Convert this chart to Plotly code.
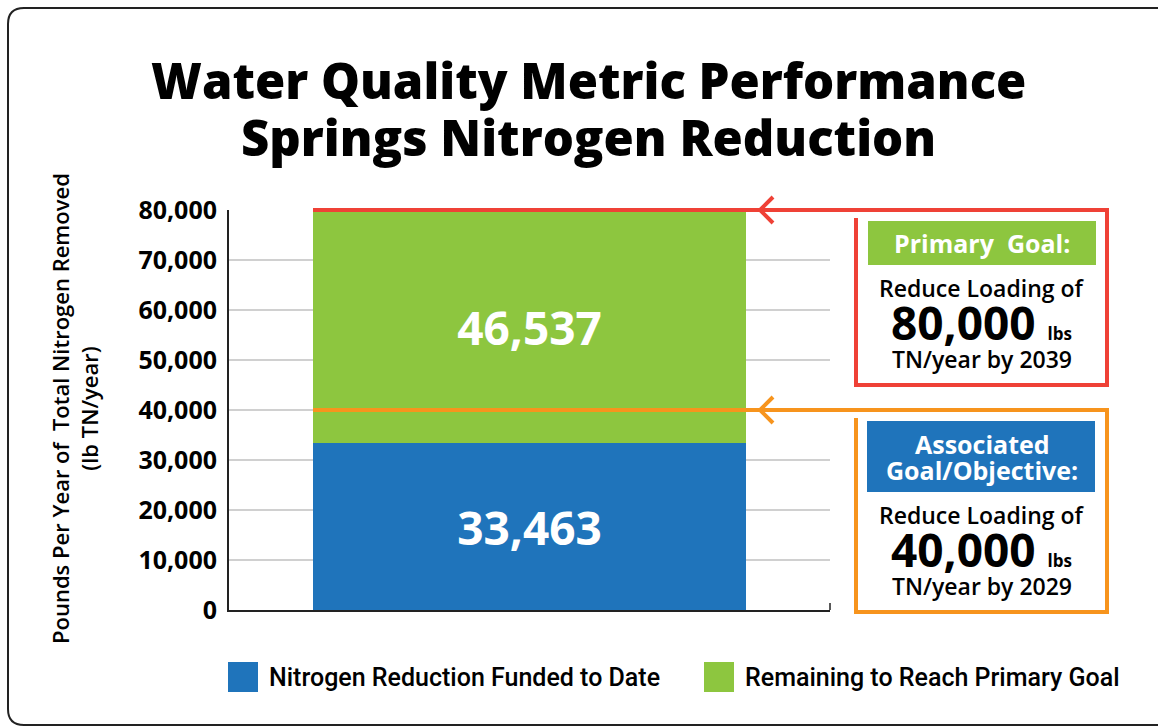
import plotly.graph_objects as go

# ---- data ----
categories = ["Springs Nitrogen Reduction"]
funded = [33463]
remaining = [46537]
series_names = ["Nitrogen Reduction Funded to Date", "Remaining to Reach Primary Goal"]
primary_goal = 80000
associated_goal = 40000
y_ticks = [0, 10000, 20000, 30000, 40000, 50000, 60000, 70000, 80000]

BLUE = "#1F74BB"
GREEN = "#8DC63F"
RED = "#EF4136"
ORANGE = "#F7941D"

W, H = 1158, 728
L, R, T, B = 229, 328, 210, 118
PW, PH = W - L - R, H - T - B
YMAX = 80000


def px(x):
    return (x - L) / PW


def py(y):
    return (H - B - y) / PH


def gy(v):
    # pixel y of a data value
    return (H - B) - v / YMAX * PH


fig = go.Figure()
fig.add_trace(go.Bar(
    x=[0.5], y=funded, width=0.72, name=series_names[0],
    marker=dict(color=BLUE, line=dict(width=0)),
    texttemplate="%{y:,}", textposition="inside", insidetextanchor="middle",
    textfont=dict(color="white", size=46, family="Open Sans", weight=700),
    hovertext=categories,
))
fig.add_trace(go.Bar(
    x=[0.5], y=remaining, width=0.72, name=series_names[1],
    marker=dict(color=GREEN, line=dict(width=0)),
    texttemplate="%{y:,}", textposition="inside", insidetextanchor="middle",
    textfont=dict(color="white", size=46, family="Open Sans", weight=700),
    hovertext=categories,
))

shapes = []
# outer rounded border
r = 16
x0, y0, x1, y1 = 8, 8, 1175, 725
path = (f"M {px(x1)},{py(y0)} L {px(x0 + r)},{py(y0)} Q {px(x0)},{py(y0)} {px(x0)},{py(y0 + r)} "
        f"L {px(x0)},{py(y1 - r)} Q {px(x0)},{py(y1)} {px(x0 + r)},{py(y1)} L {px(x1)},{py(y1)}")
shapes.append(dict(type="path", xref="paper", yref="paper", path=path,
                   line=dict(color="#222222", width=2)))

# small tick at right end of x axis
shapes.append(dict(type="line", xref="paper", yref="paper", x0=1, x1=1, y0=0, y1=py(603),
                   line=dict(color="#222222", width=1.5)))


def goal_path(goal, bottom_px, color):
    yp = gy(goal)
    p = (f"M {px(313)},{py(yp)} L {px(1107)},{py(yp)} L {px(1107)},{py(bottom_px)} "
         f"L {px(856)},{py(bottom_px)} L {px(856)},{py(yp + 8)}")
    shapes.append(dict(type="path", xref="paper", yref="paper", path=p,
                       line=dict(color=color, width=4)))
    a = (f"M {px(773)},{py(yp - 13)} L {px(760)},{py(yp)} L {px(773)},{py(yp + 13)}")
    shapes.append(dict(type="path", xref="paper", yref="paper", path=a,
                       line=dict(color=color, width=4)))


goal_path(primary_goal, 385, RED)
goal_path(associated_goal, 612, ORANGE)

# header boxes
shapes.append(dict(type="rect", xref="paper", yref="paper", x0=px(868), x1=px(1096),
                   y0=py(265), y1=py(221), fillcolor=GREEN, line=dict(width=0)))
shapes.append(dict(type="rect", xref="paper", yref="paper", x0=px(867), x1=px(1095),
                   y0=py(492), y1=py(421), fillcolor=BLUE, line=dict(width=0)))

# legend squares
shapes.append(dict(type="rect", xref="paper", yref="paper", x0=px(228), x1=px(258),
                   y0=py(692), y1=py(662), fillcolor=BLUE, line=dict(width=0)))
shapes.append(dict(type="rect", xref="paper", yref="paper", x0=px(704), x1=px(734),
                   y0=py(692), y1=py(662), fillcolor=GREEN, line=dict(width=0)))

ann = []


def text(x, y, s, size, weight=600, color="black", family="Open Sans", xanchor="center", angle=0):
    ann.append(dict(x=px(x), y=py(y), xref="paper", yref="paper", text=s, showarrow=False,
                    xanchor=xanchor, yanchor="middle", textangle=angle, borderpad=0,
                    font=dict(size=size, color=color, family=family, weight=weight)))


# title
text(588, 80, "Water Quality Metric Performance", 49, 800)
text(588, 137, "Springs Nitrogen Reduction", 49, 800)

# y-axis title
text(74, 409, "Pounds Per Year of  Total Nitrogen Removed<br>(lb TN/year)", 22, 600, angle=-90)

LBS = "<span style='font-size:17px'>lbs</span>"

# primary goal box
text(982, 243, "Primary  Goal:", 25, 700, "white")
text(982, 288, "Reduce Loading of", 23, 600)
text(981, 322, f"{primary_goal:,} {LBS}", 46, 700)
text(982, 359, "TN/year by 2039", 23, 600)

# associated goal box
text(982, 444, "Associated", 25, 700, "white")
text(982, 470, "Goal/Objective:", 25, 700, "white")
text(982, 515, "Reduce Loading of", 23, 600)
text(981, 549, f"{associated_goal:,} {LBS}", 46, 700)
text(982, 586, "TN/year by 2029", 23, 600)

# legend
text(268, 677, series_names[0], 25, 500, family="Roboto", xanchor="left")
text(744, 677, series_names[1], 25, 500, family="Roboto", xanchor="left")

fig.update_layout(
    width=W, height=H, autosize=False,
    margin=dict(l=L, r=R, t=T, b=B, pad=0),
    paper_bgcolor="white", plot_bgcolor="white",
    barmode="stack", showlegend=False, bargap=0,
    shapes=shapes, annotations=ann,
    uniformtext=dict(minsize=10, mode="show"),
)
fig.update_xaxes(range=[0, 1], showticklabels=False, showgrid=False, zeroline=False,
                 showline=True, linecolor="#222222", linewidth=2, ticks="")
fig.update_yaxes(range=[0, YMAX], tickvals=y_ticks, tickformat=",", showgrid=True,
                 gridcolor="#D0D0D0", gridwidth=1.5, zeroline=False,
                 showline=True, linecolor="#222222", linewidth=2, ticks="",
                 ticklabelstandoff=5,
                 tickfont=dict(size=25, color="black", family="Open Sans", weight=700))

fig.write_html("out.html", config={"displayModeBar": False},
               post_script="document.body.style.margin='0';document.body.style.padding='0';"
                           "document.documentElement.style.overflow='hidden';")
